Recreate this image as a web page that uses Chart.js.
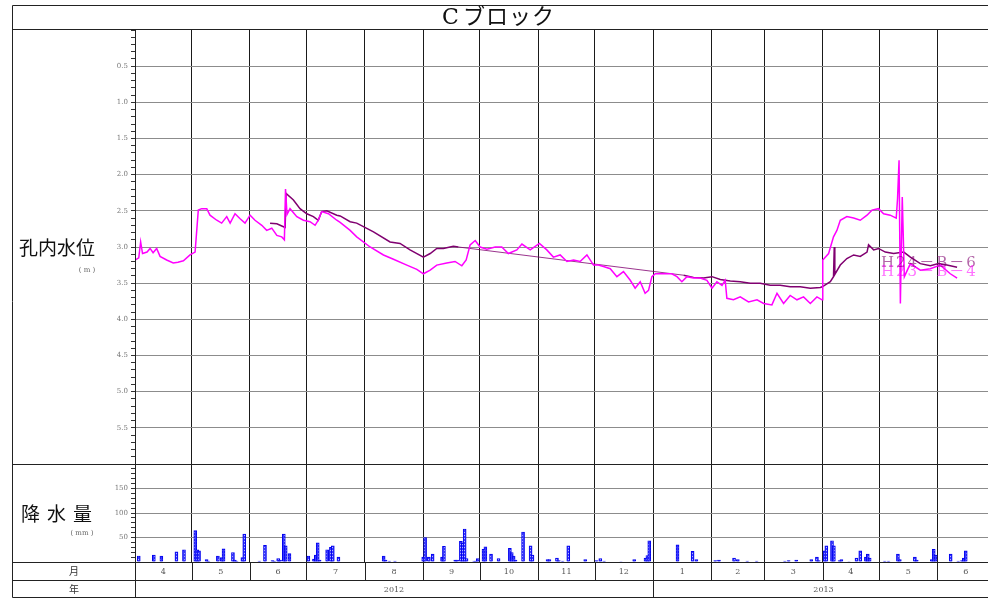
<!DOCTYPE html>
<html>
<head>
<meta charset="utf-8">
<script src="https://cdn.jsdelivr.net/npm/chart.js@4.4.1/dist/chart.umd.min.js"></script>
<style>
  html, body { margin: 0; padding: 0; background: #fff; overflow: hidden; }
  canvas { display: block; }
</style>
</head>
<body>
<canvas id="levelChart" width="1000" height="598"></canvas>
<script>
// x values are days counted from 2012-04-01
const monthStart = [0, 30, 61, 91, 122, 153, 183, 214, 244, 275, 306, 334, 365, 395, 426, 456];
const monthLabels = ['4', '5', '6', '7', '8', '9', '10', '11', '12', '1', '2', '3', '4', '5', '6'];
const yearStart = [0, 275, 456];
const yearLabels = ['2012', '2013'];

// H23-B-4 (magenta)
const b4Day = [0, 2, 3, 4, 6.4, 8, 9.6, 11.5, 13.3, 16.8, 20.3, 22.8, 25.7, 29.2, 31.9, 33.6, 35.4, 38.1, 39.8,
  43.4, 46, 48.7, 50.5, 53.1, 55.8, 58.4, 61.1, 63.7, 67.3, 69.9, 72.6, 75.3, 77.9, 79.3, 79.9, 80.7, 82.3,
  85.9, 89.4, 92.9, 95.6, 97.3, 99.1, 102.7, 107.1, 108.9, 114.2, 117.7, 124.8, 131.9, 137.2, 144.3, 149.6,
  153.1, 156.7, 160.2, 165.5, 169.9, 173.5, 175.8, 177.9, 180.6, 183.2, 186.8, 191.2, 194.7, 198.2, 202.7,
  205.4, 209.8, 214.7, 218.6, 222.1, 225.7, 229.3, 232.8, 236.3, 239.9, 243.4, 246, 248.7, 252.3, 255.8,
  259.3, 262.9, 265.5, 268.2, 270.8, 272.6, 274.4, 276.2, 280.6, 285, 287.7, 290.3, 293, 296.5, 300, 303.6,
  306.3, 308.9, 311.6, 313.3, 314.2, 317.7, 321.3, 325.7, 330.2, 333.7, 338.1, 340.8, 344.3, 347.8, 351.4,
  354.9, 358.5, 362, 364.7, 365.1, 368.2, 370.8, 372.6, 374.4, 377.9, 381.5, 385, 388.6, 391.2, 394.7,
  397.4, 400.9, 404.1, 404.8, 405.6, 406.3, 407.3, 408.4, 411.6, 416.9, 422.2, 427.5, 432.8, 436.4];
const b4Level = [3.18, 3.15, 2.93, 3.09, 3.07, 3.02, 3.08, 3.02, 3.13, 3.18, 3.22, 3.21, 3.19, 3.11, 3.07, 2.49, 2.47, 2.47, 2.56,
  2.63, 2.67, 2.58, 2.67, 2.54, 2.61, 2.67, 2.56, 2.63, 2.70, 2.77, 2.74, 2.84, 2.86, 2.90, 2.20, 2.55, 2.47,
  2.58, 2.63, 2.65, 2.70, 2.63, 2.51, 2.54, 2.63, 2.66, 2.77, 2.86, 3.00, 3.11, 3.17, 3.25, 3.31,
  3.37, 3.32, 3.25, 3.22, 3.20, 3.26, 3.18, 2.97, 2.91, 3.00, 3.03, 3.00, 3.00, 3.09, 3.04,
  2.96, 3.04, 2.95, 3.04, 3.14, 3.11, 3.20, 3.18, 3.20, 3.11, 3.25, 3.25, 3.27, 3.30, 3.41,
  3.34, 3.46, 3.57, 3.48, 3.64, 3.60, 3.41, 3.37, 3.37, 3.37, 3.41, 3.48, 3.41, 3.43, 3.43, 3.46,
  3.57, 3.48, 3.53, 3.46, 3.71, 3.73, 3.69, 3.76, 3.73, 3.78, 3.80, 3.64, 3.78, 3.67, 3.73,
  3.69, 3.78, 3.69, 3.73, 3.18, 3.09, 2.86, 2.77, 2.63, 2.58, 2.60, 2.63, 2.56, 2.49, 2.47,
  2.54, 2.56, 2.60, 2.33, 1.80, 3.78, 2.31, 3.41, 3.23, 3.32, 3.30, 3.25, 3.37, 3.43];

// H24-B-6 (purple)
const b6Day = [71.7, 75.3, 78.8, 79.7, 80.2, 84.1, 87.6, 91.2, 94.7, 97.3, 99.1, 101.8, 107.1, 108.9, 114.2,
  117.7, 126.6, 135.4, 140.7, 146, 153.1, 156.7, 160.2, 163.7, 169, 171.7, 291.2, 296.5, 301.8, 306.3,
  310.7, 316, 321.3, 326.6, 331.9, 337.2, 342.5, 347.8, 353.1, 358.5, 363.8, 364.8, 369.1, 370.8, 371.2,
  371.5, 374.4, 377.9, 381.5, 385, 388.6, 389.4, 392.1, 394.7, 398.3, 402.7, 408.1, 411.6, 416.9, 422.2,
  426.6, 431, 436.4];
const b6Level = [2.67, 2.68, 2.72, 2.73, 2.26, 2.35, 2.47, 2.54, 2.58, 2.63, 2.51, 2.50, 2.56, 2.57, 2.65,
  2.67, 2.79, 2.93, 2.95, 3.04, 3.14, 3.09, 3.02, 3.02, 2.99, 3.00, 3.39, 3.42, 3.43, 3.41,
  3.45, 3.47, 3.48, 3.50, 3.50, 3.53, 3.53, 3.55, 3.55, 3.57, 3.56, 3.55, 3.48, 3.41, 3.00,
  3.38, 3.25, 3.16, 3.11, 3.13, 3.07, 2.97, 3.04, 3.02, 3.07, 3.09, 3.07, 3.14, 3.23, 3.26,
  3.23, 3.25, 3.28];

// daily rainfall (mm)
const rainDay = [2, 10, 14, 22, 26, 32, 33, 34, 38, 39, 44, 46, 47, 52, 53, 54, 57, 58, 66, 69, 73, 74, 76, 77,
  79, 80, 82, 92, 95, 96, 97, 98, 102, 104, 105, 108, 132, 133, 135, 138, 153, 154, 156, 158, 163, 164,
  170, 171, 173, 174, 175, 176, 180, 181, 182, 185, 186, 189, 193, 199, 200, 201, 202, 206, 210, 211,
  219, 220, 224, 225, 227, 230, 239, 245, 247, 249, 258, 265, 271, 272, 273, 288, 296, 298, 308, 310,
  318, 320, 325, 330, 345, 347, 351, 359, 362, 363, 366, 367, 370, 371, 374, 375, 379, 383, 385, 388,
  389, 390, 398, 400, 405, 406, 414, 415, 423, 424, 425, 433, 437, 439, 440, 441];
const rainMm = [12, 14, 12, 21, 25, 64, 25, 23, 5, 2, 12, 9, 27, 19, 4, 2, 9, 57, 2, 34, 3, 2, 7, 4,
  57, 33, 17, 12, 6, 14, 39, 4, 25, 30, 33, 10, 12, 4, 2, 2, 10, 50, 10, 16, 10, 32,
  4, 4, 42, 38, 67, 7, 2, 2, 7, 26, 31, 16, 7, 28, 19, 12, 4, 61, 33, 14,
  5, 5, 8, 3, 2, 33, 5, 3, 7, 2, 1, 5, 8, 13, 43, 35, 22, 5, 3, 4,
  8, 5, 2, 2, 2, 3, 4, 5, 10, 3, 23, 33, 43, 33, 3, 5, 1, 8, 23, 10,
  16, 8, 2, 2, 16, 5, 10, 4, 5, 26, 14, 16, 2, 3, 8, 23];

const toPoints = (xs, ys) => xs.map((x, i) => ({ x: x, y: ys[i] }));

const serif = '"DejaVu Serif", "Noto Sans CJK JP", serif';
const gothic = '"Noto Sans CJK JP", sans-serif';

// small dotted fill like the printed bars
function barPattern() {
  const c = document.createElement('canvas');
  c.width = 2; c.height = 3;
  const g = c.getContext('2d');
  g.fillStyle = '#3a3aff';
  g.fillRect(0, 0, 2, 3);
  g.fillStyle = '#b8b8ff';
  g.fillRect(0, 1, 1, 1);
  return g.createPattern(c, 'repeat');
}

// the long missing stretch is joined with a thin line
const gapWidth = c => (c.p1.parsed.x - c.p0.parsed.x > 30 ? 0.8 : undefined);

const framePlugin = {
  id: 'frame',
  beforeDraw(chart) {
    const ctx = chart.ctx;
    ctx.save();
    ctx.fillStyle = '#fff';
    ctx.fillRect(0, 0, chart.width, chart.height);
    ctx.restore();
  },
  afterDraw(chart) {
    const ctx = chart.ctx;
    const xs = chart.scales.x;
    const area = chart.chartArea;
    const L = 12.5, R = 999.5, T = 5.5, B = 597.5;
    const left = Math.round(area.left) + 0.5;
    const split = Math.round(chart.scales.y.bottom) + 0.5;
    const bottom = Math.round(area.bottom) + 0.5;
    const monthRow = bottom + 18;

    ctx.save();
    ctx.strokeStyle = '#222';
    ctx.lineWidth = 1;
    ctx.beginPath();
    ctx.rect(L, T, R - L, B - T);
    [29.5, split, bottom, monthRow].forEach(y => { ctx.moveTo(L, y); ctx.lineTo(R, y); });
    ctx.moveTo(left, 29.5); ctx.lineTo(left, B);
    monthStart.forEach(d => {
      const px = Math.round(xs.getPixelForValue(d)) + 0.5;
      ctx.moveTo(px, bottom); ctx.lineTo(px, monthRow);
    });
    yearStart.forEach(d => {
      const px = Math.round(xs.getPixelForValue(d)) + 0.5;
      ctx.moveTo(px, monthRow); ctx.lineTo(px, B);
    });
    ctx.stroke();

    // title
    ctx.fillStyle = '#111';
    ctx.textAlign = 'left';
    ctx.textBaseline = 'middle';
    ctx.font = '22px ' + serif;
    ctx.fillText('C', 442, 18);
    ctx.letterSpacing = '1px';
    ctx.fillText('ブロック', 463, 18);
    ctx.letterSpacing = '0px';

    // left labels
    ctx.font = '19px ' + gothic;
    ctx.fillText('孔内水位', 19, 248);
    ['降', '水', '量'].forEach((c, i) => ctx.fillText(c, 21 + i * 26, 514));
    ctx.fillStyle = '#666';
    ctx.font = '7px ' + serif;
    ctx.textAlign = 'center';
    ctx.fillText('( m )', 87, 270);
    ctx.fillText('( mm )', 82, 533);
    ctx.fillStyle = '#333';
    ctx.font = '10px ' + gothic;
    ctx.fillText('月', 74, 571);
    ctx.fillText('年', 74, 589);

    // month and year labels
    ctx.fillStyle = '#555';
    ctx.font = '8px ' + serif;
    monthLabels.forEach((m, i) => {
      const px = (xs.getPixelForValue(monthStart[i]) + xs.getPixelForValue(monthStart[i + 1])) / 2;
      ctx.fillText(m, px, 572);
    });
    yearLabels.forEach((y, i) => {
      const px = (xs.getPixelForValue(yearStart[i]) + xs.getPixelForValue(yearStart[i + 1])) / 2;
      ctx.fillText(y, px, 590);
    });

    // series names at the line ends
    ctx.textAlign = 'left';
    ctx.textBaseline = 'alphabetic';
    ctx.font = '15px ' + serif;
    ctx.letterSpacing = '2px';
    ctx.fillStyle = 'rgba(128, 0, 112, 0.6)';
    ctx.fillText('H24－B－6', 881, 267);
    ctx.fillStyle = 'rgba(255, 0, 255, 0.55)';
    ctx.fillText('H23－B－4', 881, 276);
    ctx.restore();
  }
};

new Chart(document.getElementById('levelChart'), {
  type: 'line',
  data: {
    datasets: [{
      label: 'H23-B-4',
      data: toPoints(b4Day, b4Level),
      borderColor: '#ff00ff',
      borderWidth: 1.5,
      pointRadius: 0,
      tension: 0,
      yAxisID: 'y'
    }, {
      label: 'H24-B-6',
      data: toPoints(b6Day, b6Level),
      borderColor: '#800070',
      borderWidth: 1.5,
      segment: { borderWidth: gapWidth },
      pointRadius: 0,
      tension: 0,
      yAxisID: 'y'
    }, {
      type: 'bar',
      label: '降水量',
      data: toPoints(rainDay, rainMm),
      backgroundColor: barPattern(),
      borderColor: '#0000ee',
      borderWidth: 1,
      barThickness: 3,
      yAxisID: 'y2'
    }]
  },
  options: {
    responsive: false,
    animation: false,
    layout: { padding: { top: 30, right: 6, bottom: 36, left: 0 } },
    plugins: {
      legend: { display: false },
      tooltip: { enabled: false }
    },
    scales: {
      x: {
        type: 'linear',
        min: 0,
        max: 456,
        offset: false,
        afterBuildTicks: s => { s.ticks = monthStart.map(v => ({ value: v })); },
        afterFit: s => { s.height = 0; },
        ticks: { display: false },
        grid: { color: '#1a1a1a', drawTicks: false, offset: false },
        border: { display: false }
      },
      y: {
        type: 'linear',
        position: 'left',
        stack: 'panels',
        stackWeight: 434,
        weight: 1,
        reverse: true,
        min: 0,
        max: 6,
        afterFit: s => { s.width = 135; },
        ticks: {
          stepSize: 0.1,
          autoSkip: false,
          color: '#777',
          font: { family: 'DejaVu Serif', size: 7 },
          padding: 3,
          callback: v => {
            const t = Math.round(v * 10);
            return (t % 5 === 0 && t > 0 && t < 60) ? (t / 10).toFixed(1) : '';
          }
        },
        grid: {
          tickLength: 4,
          tickColor: '#333',
          color: c => {
            const t = Math.round(c.tick.value * 10);
            return (t % 5 === 0 && t > 0 && t < 60) ? '#8c8c8c' : 'rgba(0,0,0,0)';
          }
        },
        border: { color: '#222' }
      },
      y2: {
        type: 'linear',
        position: 'left',
        stack: 'panels',
        stackWeight: 98,
        weight: 0,
        min: 0,
        max: 200,
        afterFit: s => { s.width = 135; },
        ticks: {
          stepSize: 10,
          autoSkip: false,
          color: '#777',
          font: { family: 'DejaVu Serif', size: 7 },
          padding: 3,
          callback: v => (v === 50 || v === 100 || v === 150) ? String(v) : ''
        },
        grid: {
          tickLength: 4,
          tickColor: '#333',
          color: c => (c.tick.value === 50 || c.tick.value === 100 || c.tick.value === 150) ? '#8c8c8c' : 'rgba(0,0,0,0)'
        },
        border: { color: '#222' }
      }
    }
  },
  plugins: [framePlugin]
});
</script>
</body>
</html>
